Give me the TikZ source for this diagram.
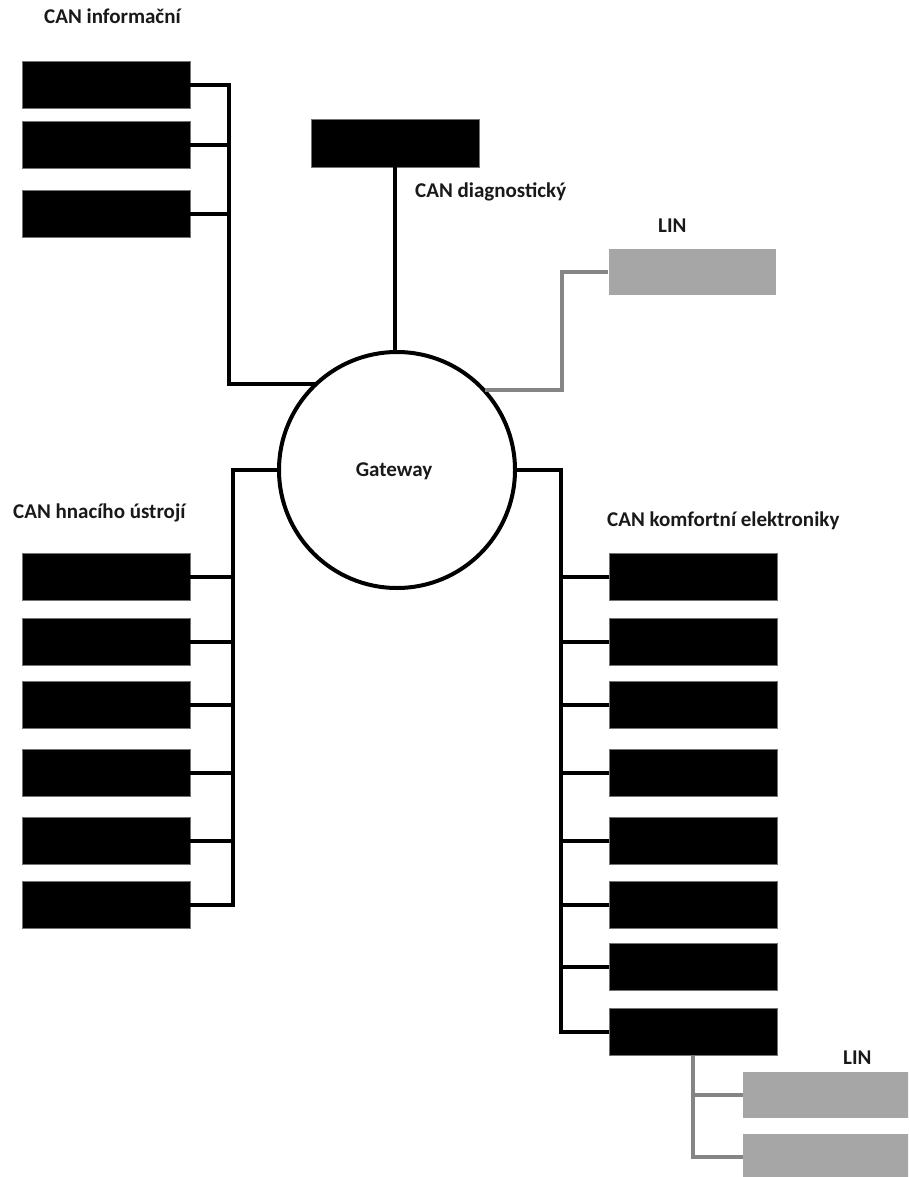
\documentclass[tikz,border=0pt]{standalone}
\usepackage{fontspec}
\setmainfont{Carlito}
\definecolor{linfill}{HTML}{A6A6A6}
\definecolor{linline}{HTML}{858585}
\begin{document}
\begin{tikzpicture}[x=1pt,y=-1pt,
  ecu/.style={rectangle, fill=black, draw=black!55, line width=0.6pt, minimum width=168pt, minimum height=47pt, inner sep=0pt},
  linbox/.style={rectangle, fill=linfill, draw=none, minimum width=168pt, minimum height=46pt, inner sep=0pt},
  bus/.style={line width=4.5pt, black, line join=miter},
  gbus/.style={line width=4pt, linline, line join=miter},
  lbl/.style={anchor=base west, inner sep=0pt, font=\fontsize{21}{25}\selectfont\bfseries, text=black!90}]
\clip (0,0) rectangle (908,1177);
\fill[white] (0,0) rectangle (908,1177);

% Gateway
\node[circle, draw=black, line width=4pt, minimum size=236pt, inner sep=0pt, text depth=0pt,
      font=\fontsize{21}{25}\selectfont\bfseries, text=black!90] (gw) at (397,470) {\hspace{-6pt}Gateway};

% CAN informacni
\node[lbl] (tI) at (44,24) {CAN informační};
\node[ecu] (i1) at (106,85) {};
\node[ecu] (i2) at (106,145) {};
\node[ecu] (i3) at (106,214) {};
\coordinate (busI) at (229,384);
\draw[bus] (i1.east) -- (i1.east -| busI) -- (busI) -- (gw.133 |- busI);
\draw[bus] (i2.east) -- (i2.east -| busI);
\draw[bus] (i3.east) -- (i3.east -| busI);

% CAN diagnosticky
\node[ecu, minimum height=48pt] (d) at (395,143) {};
\node[lbl] (tD) at (415,197) {CAN diagnostický};
\draw[bus] (d.south) -- (d.south |- gw.north);

% LIN top
\node[lbl] (tL1) at (658,232) {LIN};
\node[linbox, minimum width=167pt] (l1) at (692,272) {};
\coordinate (busL) at (562,390);
\draw[gbus] (gw.43 |- busL) -- (busL) |- (l1.west);

% CAN hnaciho ustroji
\node[lbl] (tH) at (13,518) {CAN hnacího ústrojí};
\coordinate (busHt) at (233,470);
\coordinate (busHb) at (233,905);
\foreach \n/\y in {1/577,2/642,3/705,4/773,5/841,6/905}{
  \node[ecu] (h\n) at (106,\y) {};
}
\draw[bus] (gw.west) -- (busHt) -- (busHb) -- (h6.east);
\foreach \n in {1,...,5}{
  \draw[bus] (h\n.east) -- (h\n.east -| busHt);
}

% CAN komfortni elektroniky
\node[lbl] (tK) at (607,526) {CAN komfortní elektroniky};
\coordinate (busKt) at (561,470);
\coordinate (busKb) at (561,1032);
\foreach \n/\y in {1/577,2/642,3/705,4/773,5/841,6/905,7/967,8/1032}{
  \node[ecu] (r\n) at (693,\y) {};
}
\draw[bus] (gw.east) -- (busKt) -- (busKb) -- (r8.west);
\foreach \n in {1,...,7}{
  \draw[bus] (r\n.west) -- (r\n.west -| busKt);
}

% LIN bottom
\node[lbl] (tL2) at (843,1064) {LIN};
\node[linbox] (lb1) at (827,1095) {};
\node[linbox] (lb2) at (827,1157) {};
\draw[gbus] (r8.south) |- (lb2.west);
\draw[gbus] (lb1.west) -- (lb1.west -| r8.south);
\end{tikzpicture}
\end{document}
